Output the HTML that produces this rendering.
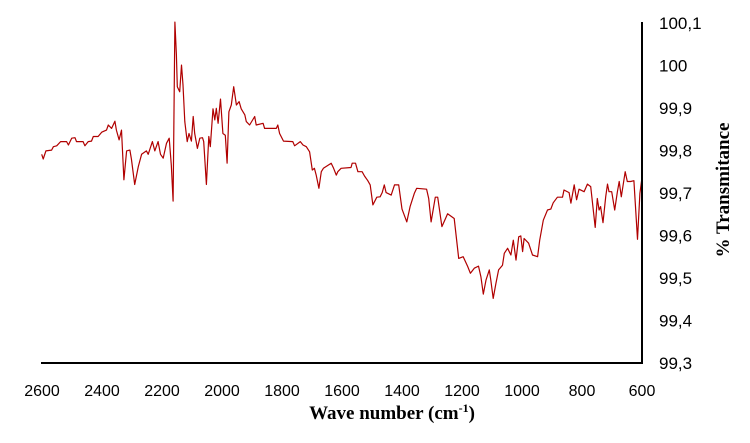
<!DOCTYPE html>
<html><head><meta charset="utf-8">
<style>
body{margin:0;background:#fff;}
svg{display:block;font-family:"Liberation Sans",sans-serif;}
</style></head>
<body>
<svg id="chart" width="750" height="443" viewBox="0 0 750 443">
  <g id="yticks"></g>
  <g id="xticks"></g>
  <path id="series" fill="none" stroke="#b00000" stroke-width="1.2" stroke-linejoin="round"></path>
  <line x1="41" y1="363" x2="643" y2="363" stroke="#000" stroke-width="2"/>
  <line x1="642" y1="22" x2="642" y2="364" stroke="#000" stroke-width="2"/>
  <text x="392" y="419" text-anchor="middle" font-family="Liberation Serif, serif" font-weight="bold" font-size="19">Wave number  (cm<tspan font-size="12" dy="-7">-1</tspan><tspan dy="7">)</tspan></text>
  <text transform="translate(729,190) rotate(-90)" text-anchor="middle" font-family="Liberation Serif, serif" font-weight="bold" font-size="19">% Transmitance</text>
</svg>
<script>
const xTicks=[2600,2400,2200,2000,1800,1600,1400,1200,1000,800,600];
const yTicks=[99.3,99.4,99.5,99.6,99.7,99.8,99.9,100,100.1];
const yTickLabels=["99,3","99,4","99,5","99,6","99,7","99,8","99,9","100","100,1"];
const waveNumbers=[2601,2596,2587,2568,2562,2551,2538,2518,2512,2501,2490,2485,2463,2457,2446,2435,2429,2413,2401,2385,2379,2368,2357,2352,2343,2335,2327,2318,2307,2302,2291,2279,2268,2252,2246,2232,2224,2213,2205,2196,2185,2176,2169,2163,2157,2152,2149,2141,2135,2130,2124,2116,2110,2102,2096,2091,2082,2074,2065,2061,2052,2044,2039,2030,2024,2019,2013,2005,1997,1989,1983,1977,1969,1961,1952,1943,1936,1924,1919,1908,1891,1886,1863,1858,1819,1814,1808,1795,1764,1758,1739,1730,1719,1708,1699,1692,1686,1677,1669,1662,1636,1628,1619,1614,
1603,1570,1566,1555,1547,1533,1525,1514,1506,1497,1484,1473,1466,1459,1453,1436,1425,1411,1400,1384,1373,1359,1351,1318,1311,1303,1289,1281,1267,1256,1248,1226,1211,1196,1181,1172,1159,1145,1137,1129,1120,1109,1104,1096,1087,1078,1065,1059,1048,1037,1029,1020,1011,1004,998,993,978,965,948,941,929,915,904,896,882,865,860,843,837,826,818,810,793,782,771,756,749,743,738,730,721,715,710,701,691,682,676,669,656,649,638,627,615,607,601];
const transmittance=[99.791,99.780,99.799,99.801,99.809,99.811,99.821,99.821,99.813,99.829,99.830,99.821,99.821,99.811,99.821,99.822,99.833,99.833,99.843,99.848,99.860,99.852,99.869,99.848,99.825,99.848,99.731,99.799,99.801,99.780,99.720,99.762,99.791,99.799,99.791,99.821,99.799,99.821,99.791,99.782,99.817,99.829,99.766,99.681,100.102,100.025,99.950,99.938,100.001,99.954,99.868,99.821,99.840,99.822,99.880,99.840,99.805,99.829,99.830,99.821,99.720,99.833,99.809,99.898,99.872,99.899,99.864,99.921,99.840,99.836,99.770,99.891,99.907,99.950,99.907,99.915,99.898,99.884,99.868,99.860,99.880,99.860,99.864,99.852,99.852,99.860,99.840,99.822,99.821,99.811,99.821,99.813,99.809,99.797,99.754,99.758,99.742,99.711,99.750,99.758,99.770,99.758,99.742,99.750,
99.758,99.760,99.770,99.770,99.750,99.750,99.740,99.729,99.719,99.672,99.690,99.691,99.701,99.719,99.701,99.695,99.719,99.719,99.662,99.632,99.668,99.699,99.711,99.709,99.687,99.632,99.690,99.690,99.621,99.638,99.651,99.640,99.546,99.550,99.527,99.511,99.523,99.528,99.503,99.462,99.495,99.519,99.495,99.452,99.487,99.519,99.530,99.558,99.570,99.554,99.589,99.542,99.597,99.599,99.562,99.593,99.582,99.554,99.550,99.589,99.636,99.660,99.662,99.677,99.690,99.690,99.707,99.701,99.676,99.719,99.684,99.709,99.703,99.721,99.715,99.619,99.687,99.660,99.668,99.630,99.691,99.721,99.703,99.703,99.660,99.703,99.727,99.691,99.750,99.727,99.727,99.729,99.591,99.699,99.731];

const X0=42,X1=642,Y0=23,Y1=363;
function xs(w){return X0+(2600-w)/2000*(X1-X0);}
function ys(v){return Y0+(100.1-v)/0.8*(Y1-Y0);}
const NS="http://www.w3.org/2000/svg";
const yg=document.getElementById('yticks');
yTicks.forEach((t,i)=>{
  const el=document.createElementNS(NS,'text');
  
  
  el.setAttribute('x',659);el.setAttribute('y',ys(t)+6);
  el.setAttribute('font-size','17');el.setAttribute('fill','#000');
  el.textContent=yTickLabels[i];yg.appendChild(el);
});
const xg=document.getElementById('xticks');
xTicks.forEach(t=>{
  const el=document.createElementNS(NS,'text');
  
  
  el.setAttribute('x',xs(t));el.setAttribute('y',396);
  el.setAttribute('text-anchor','middle');
  el.setAttribute('font-size','16');el.setAttribute('fill','#000');
  el.textContent=t;xg.appendChild(el);
});
let d='';
waveNumbers.forEach((w,i)=>{d+=(i?'L':'M')+xs(w).toFixed(1)+' '+ys(transmittance[i]).toFixed(1);});
document.getElementById('series').setAttribute('d',d);
</script>
</body></html>
